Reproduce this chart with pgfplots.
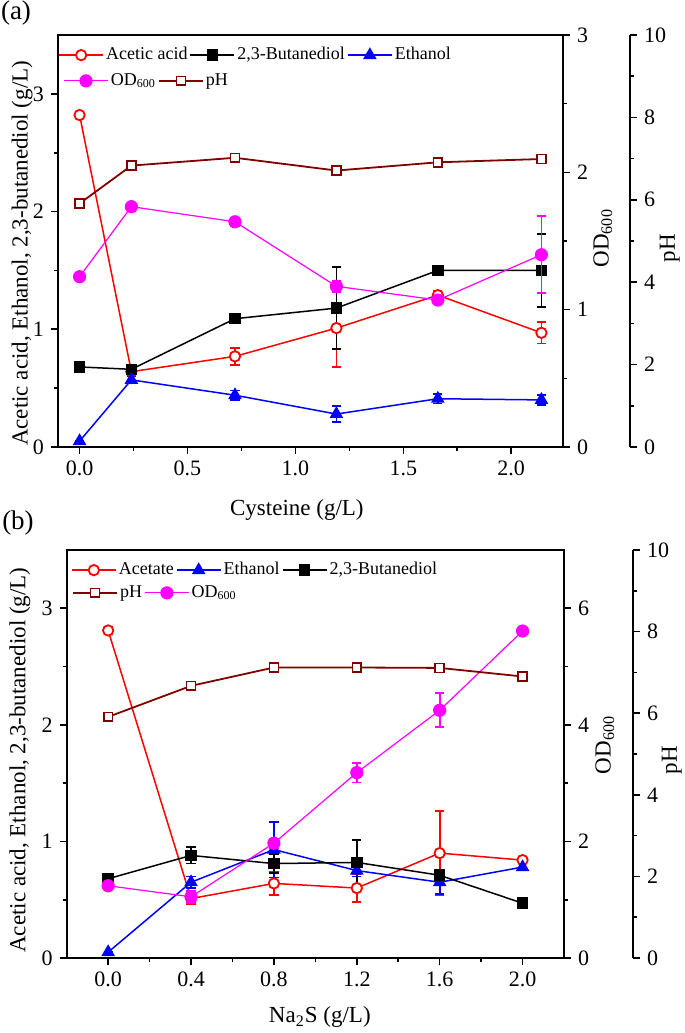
\documentclass[border=0pt]{standalone}
\usepackage{pgfplots}
\pgfplotsset{compat=1.18}
\usepackage{fontspec}
\setmainfont{Liberation Serif}

\definecolor{phred}{RGB}{128,0,0}
\definecolor{odmag}{RGB}{255,0,255}

\pgfplotsset{
  base/.style={
    scale only axis,
    tick align=outside,
    major tick length=3.5pt, minor tick length=2pt,
    every tick/.style={black, line width=0.8pt},
    axis line style={line width=0.9pt},
    /pgf/number format/assume math mode=true,
    tick label style={font=\fontsize{11}{12}\selectfont},
    label style={font=\fontsize{11.5}{13}\selectfont},
    legend style={draw=none, fill=none, font=\fontsize{9}{10}\selectfont,
      legend columns=-1, anchor=north west, inner sep=0pt,
      nodes={inner xsep=1.1pt},
      /tikz/every even column/.append style={column sep=0pt}},
    legend image code/.code={\draw[mark repeat=2,mark phase=2]
      plot coordinates {(0pt,0pt) (11pt,0pt) (22pt,0pt)};},
    clip=false,
  },
  acet/.style={red, line width=0.75pt, mark=*, mark size=2.6pt,
    mark options={fill=white, line width=0.9pt}},
  bdo/.style={black, line width=0.75pt, mark=square*, mark size=2.5pt},
  eth/.style={blue, line width=0.75pt, mark=triangle*, mark size=3.2pt},
  od/.style={odmag, line width=0.6pt, mark=*, mark size=3pt},
  ph/.style={phred, line width=0.9pt, mark=square*, mark size=2.2pt,
    mark options={fill=white, line width=0.8pt}},
  eb/.style={error bars/.cd, y dir=both, y explicit,
    error bar style={line width=0.9pt},
    error mark options={rotate=90, mark size=2.3pt, line width=0.9pt}},
}

\begin{document}
\begin{tikzpicture}
\path[use as bounding box] (0,0) rectangle (342.5pt,-516.5pt);

% ---------------- (a) Cysteine ----------------
\node[font=\fontsize{13.5}{15}\selectfont] at (8pt,-6.5pt) {(a)};

\begin{axis}[base, at={(29pt,-17.5pt)}, anchor=north west,
  width=252.5pt, height=206pt,
  xmin=-0.1, xmax=2.24, ymin=0, ymax=3.5,
  xtick={0,0.5,1,1.5,2}, minor x tick num=1,
  ytick={0,1,2,3}, minor y tick num=1,
  xtick pos=lower, ytick pos=left,
  xticklabel style={/pgf/number format/.cd, fixed, fixed zerofill, precision=1},
  xlabel={Cysteine (g/L)},
  ylabel={Acetic acid, Ethanol, 2,3-butanediol (g/L)},
  xlabel style={at={(axis description cs:0.473,-0.153)}, anchor=center},
  ylabel style={at={(axis description cs:-0.071,0.47)}, anchor=center},
  legend style={at={(axis description cs:0,1)}, yshift=-4pt},
]
% Acetic acid
\addplot[acet, eb] coordinates {
(0,2.82) +- (0,0.03)
(0.24,0.64) +- (0,0.02)
(0.72,0.77) +- (0,0.07)
(1.19,1.01) +- (0,0.33)
(1.66,1.29) +- (0,0.04)
(2.14,0.97) +- (0,0.09)
};
\addlegendentry{Acetic acid}
% 2,3-Butanediol
\addplot[bdo, eb] coordinates {
(0,0.68) +- (0,0.03)
(0.24,0.66) +- (0,0.03)
(0.72,1.09) +- (0,0.03)
(1.19,1.18) +- (0,0.35)
(1.66,1.50) +- (0,0.03)
(2.14,1.50) +- (0,0.31)
};
\addlegendentry{2,3-Butanediol}
% Ethanol
\addplot[eth, eb] coordinates {
(0,0.05) +- (0,0)
(0.24,0.57) +- (0,0.03)
(0.72,0.44) +- (0,0.04)
(1.19,0.28) +- (0,0.07)
(1.66,0.41) +- (0,0.04)
(2.14,0.40) +- (0,0.04)
};
\addlegendentry{Ethanol}
\end{axis}

% OD600 axis (a)
\begin{axis}[base, at={(29pt,-17.5pt)}, anchor=north west,
  width=252.5pt, height=206pt,
  xmin=-0.1, xmax=2.24, ymin=0, ymax=3,
  axis x line=none, axis y line*=right,
  ytick={0,1,2,3}, minor y tick num=1,
  ylabel={OD\textsubscript{600}},
  ylabel style={at={(axis description cs:1.079,0.507)}, anchor=center},
  legend style={at={(axis description cs:0,1)}, xshift=2.5pt, yshift=-17pt},
]
\addplot[od, eb] coordinates {
(0,1.24) +- (0,0.02)
(0.24,1.75) +- (0,0.03)
(0.72,1.64) +- (0,0.03)
(1.19,1.17) +- (0,0.04)
(1.66,1.07) +- (0,0.03)
(2.14,1.40) +- (0,0.28)
};
\addlegendentry{OD\textsubscript{600}}
\addlegendimage{ph}
\addlegendentry{pH}
\end{axis}

% pH axis line (a)
\begin{axis}[base, at={(62.5pt,-17.5pt)}, anchor=north west,
  width=252.5pt, height=206pt,
  xmin=0, xmax=1, ymin=0, ymax=10,
  axis x line=none, axis y line*=right,
  ytick={0,2,4,6,8,10}, minor y tick num=1,
  ylabel={pH},
  ylabel style={at={(axis description cs:1.079,0.483)}, anchor=center},
]
\end{axis}

% pH data (a)
\begin{axis}[base, hide axis, at={(29pt,-17.5pt)}, anchor=north west,
  width=252.5pt, height=206pt,
  xmin=-0.1, xmax=2.24, ymin=0, ymax=10]
\addplot[ph, eb] coordinates {
(0,5.91) +- (0,0.07)
(0.24,6.83) +- (0,0)
(0.72,7.02) +- (0,0)
(1.19,6.71) +- (0,0.07)
(1.66,6.91) +- (0,0.07)
(2.14,6.99) +- (0,0)
};
\end{axis}

% ---------------- (b) Na2S ----------------
\node[font=\fontsize{13.5}{15}\selectfont] at (9pt,-261.5pt) {(b)};

\begin{axis}[base, at={(33.35pt,-275pt)}, anchor=north west,
  width=248.65pt, height=204pt,
  xmin=-0.2, xmax=2.2, ymin=0, ymax=3.5,
  xtick={0,0.4,0.8,1.2,1.6,2.0}, minor x tick num=1,
  ytick={0,1,2,3}, minor y tick num=1,
  xtick pos=lower, ytick pos=left,
  xticklabel style={/pgf/number format/.cd, fixed, fixed zerofill, precision=1},
  xlabel={Na\textsubscript{2}S (g/L)},
  ylabel={Acetic acid, Ethanol, 2,3-butanediol (g/L)},
  xlabel style={at={(axis description cs:0.509,-0.145)}, anchor=center},
  ylabel style={at={(axis description cs:-0.094,0.485)}, anchor=center},
  legend style={at={(axis description cs:0,1)}, xshift=2pt, yshift=-4pt},
]
% Acetate
\addplot[acet, eb] coordinates {
(0,2.81) +- (0,0.03)
(0.4,0.51) +- (0,0.05)
(0.8,0.64) +- (0,0.10)
(1.2,0.60) +- (0,0.12)
(1.6,0.90) +- (0,0.36)
(2.0,0.84) +- (0,0.02)
};
\addlegendentry{Acetate}
% Ethanol
\addplot[eth, eb] coordinates {
(0,0.05) +- (0,0)
(0.4,0.65) +- (0,0.05)
(0.8,0.93) +- (0,0.24)
(1.2,0.75) +- (0,0.05)
(1.6,0.65) +- (0,0.10)
(2.0,0.78) +- (0,0.03)
};
\addlegendentry{Ethanol}
% 2,3-Butanediol
\addplot[bdo, eb] coordinates {
(0,0.68) +- (0,0.02)
(0.4,0.88) +- (0,0.07)
(0.8,0.81) +- (0,0.08)
(1.2,0.82) +- (0,0.19)
(1.6,0.71) +- (0,0.05)
(2.0,0.47) +- (0,0.02)
};
\addlegendentry{2,3-Butanediol}
\end{axis}

% OD600 axis (b)
\begin{axis}[base, at={(33.35pt,-275pt)}, anchor=north west,
  width=248.65pt, height=204pt,
  xmin=-0.2, xmax=2.2, ymin=0, ymax=7,
  axis x line=none, axis y line*=right,
  ytick={0,2,4,6}, minor y tick num=1,
  ylabel={OD\textsubscript{600}},
  ylabel style={at={(axis description cs:1.082,0.522)}, anchor=center},
  legend style={at={(axis description cs:0,1)}, xshift=2.5pt, yshift=-15.5pt},
]
\addlegendimage{ph}
\addlegendentry{pH}
\addplot[od, eb] coordinates {
(0,1.24) +- (0,0.05)
(0.4,1.05) +- (0,0.10)
(0.8,1.97) +- (0,0.08)
(1.2,3.18) +- (0,0.17)
(1.6,4.25) +- (0,0.29)
(2.0,5.61) +- (0,0.03)
};
\addlegendentry{OD\textsubscript{600}}
\end{axis}

% pH axis line (b)
\begin{axis}[base, at={(67.85pt,-275pt)}, anchor=north west,
  width=248.65pt, height=204pt,
  xmin=0, xmax=1, ymin=0, ymax=10,
  axis x line=none, axis y line*=right,
  ytick={0,2,4,6,8,10}, minor y tick num=1,
  ylabel={pH},
  ylabel style={at={(axis description cs:1.078,0.485)}, anchor=center},
]
\end{axis}

% pH data (b)
\begin{axis}[base, hide axis, at={(33.35pt,-275pt)}, anchor=north west,
  width=248.65pt, height=204pt,
  xmin=-0.2, xmax=2.2, ymin=0, ymax=10]
\addplot[ph, eb] coordinates {
(0,5.91) +- (0,0.07)
(0.4,6.67) +- (0,0.07)
(0.8,7.12) +- (0,0)
(1.2,7.12) +- (0,0)
(1.6,7.11) +- (0,0)
(2.0,6.90) +- (0,0)
};
\end{axis}

\end{tikzpicture}
\end{document}
